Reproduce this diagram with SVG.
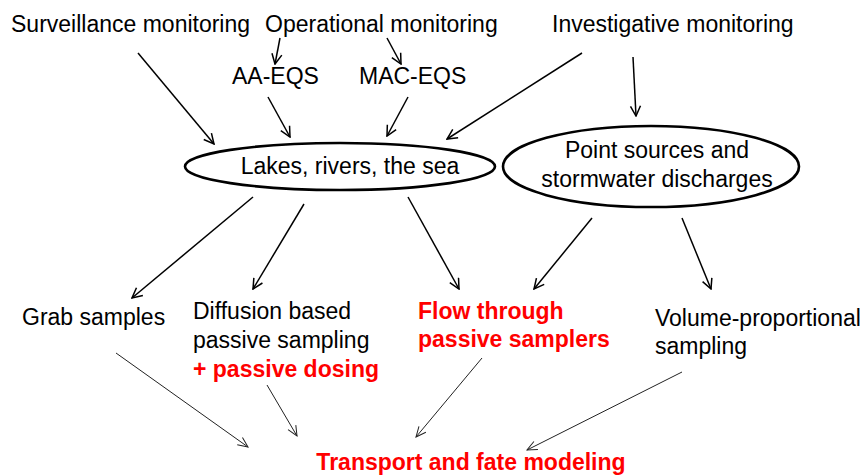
<svg xmlns="http://www.w3.org/2000/svg" width="868" height="475" viewBox="0 0 868 475">
<style>
text{font-family:"Liberation Sans",Arial,sans-serif;font-size:23px;fill:#000}
.red{fill:#ff0000;font-weight:bold}
.mid{text-anchor:middle}
.node{fill:none;stroke:#000;stroke-width:2.6}
.thick{stroke:#000;stroke-width:1.5;fill:none;marker-end:url(#ah)}
.thin{stroke:#222;stroke-width:1;fill:none;marker-end:url(#ahs)}
</style>
<defs>
<marker id="ah" markerUnits="userSpaceOnUse" viewBox="0 0 12 12" refX="11" refY="6" markerWidth="12" markerHeight="12" orient="auto">
<path d="M1,1 L11,6 L1,11" fill="none" stroke="#000" stroke-width="1.5"/>
</marker>
<marker id="ahs" markerUnits="userSpaceOnUse" viewBox="0 0 12 12" refX="11" refY="6" markerWidth="12" markerHeight="12" orient="auto">
<path d="M1,1.5 L11,6 L1,10.5" fill="none" stroke="#222" stroke-width="1"/>
</marker>
</defs>
<rect width="868" height="475" fill="#fff"/>
<g id="surveillance"><text x="11" y="32">Surveillance monitoring</text></g>
<g id="operational"><text x="265" y="32">Operational monitoring</text></g>
<g id="investigative"><text x="552" y="32">Investigative monitoring</text></g>
<g id="aa-eqs"><text x="232" y="84">AA-EQS</text></g>
<g id="mac-eqs"><text x="359" y="84">MAC-EQS</text></g>
<g id="lakes"><ellipse class="node" cx="340" cy="166.5" rx="155" ry="23.5"/><text class="mid" x="350" y="174">Lakes, rivers, the sea</text></g>
<g id="point-sources"><ellipse class="node" cx="651" cy="166.5" rx="148" ry="40.5"/><text class="mid" x="657" y="158">Point sources and</text><text class="mid" x="657" y="187">stormwater discharges</text></g>
<g id="grab"><text x="22" y="325">Grab samples</text></g>
<g id="diffusion"><text x="193" y="319">Diffusion based</text><text x="193" y="348">passive sampling</text><text class="red" x="193" y="377">+ passive dosing</text></g>
<g id="flow"><text class="red" x="418" y="319">Flow through</text><text class="red" x="418" y="347">passive samplers</text></g>
<g id="volume"><text x="655" y="326">Volume-proportional</text><text x="655" y="354">sampling</text></g>
<g id="transport"><text class="red mid" x="471" y="470">Transport and fate modeling</text></g>
<g id="connectors">
<line class="thick" x1="138" y1="53" x2="214" y2="144"/>
<line class="thick" x1="280" y1="38" x2="275" y2="64"/>
<line class="thick" x1="387" y1="38" x2="401" y2="64"/>
<line class="thick" x1="268" y1="97" x2="290" y2="137"/>
<line class="thick" x1="408" y1="97" x2="387" y2="136"/>
<line class="thick" x1="582" y1="53" x2="447" y2="139"/>
<line class="thick" x1="633" y1="57" x2="636" y2="116"/>
<line class="thick" x1="253" y1="197" x2="132" y2="298"/>
<line class="thick" x1="304" y1="204" x2="253" y2="289"/>
<line class="thick" x1="408" y1="197" x2="459" y2="289"/>
<line class="thick" x1="592" y1="218" x2="534" y2="289"/>
<line class="thick" x1="682" y1="218" x2="711" y2="289"/>
<line class="thin" x1="116" y1="353" x2="248" y2="447"/>
<line class="thin" x1="267" y1="385" x2="297" y2="436"/>
<line class="thin" x1="482" y1="358" x2="416" y2="437"/>
<line class="thin" x1="682" y1="372" x2="527" y2="450"/>
</g>
</svg>
